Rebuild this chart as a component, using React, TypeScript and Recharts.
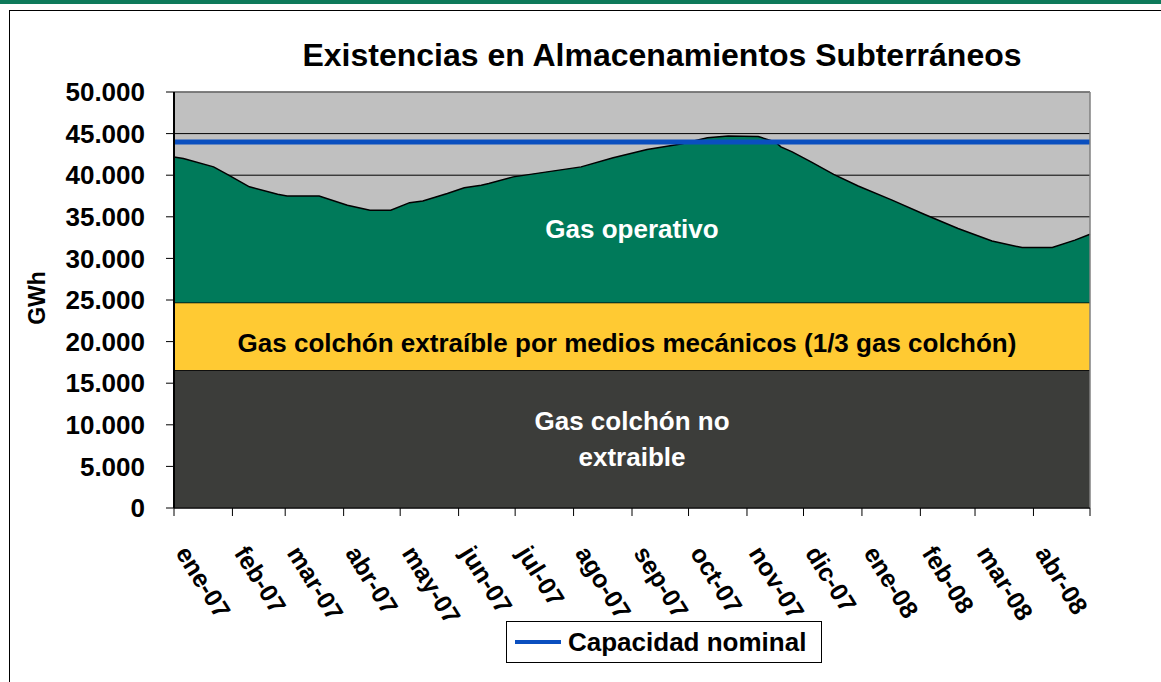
import {
  ComposedChart,
  Area,
  Line,
  XAxis,
  YAxis,
  CartesianGrid,
  ReferenceArea,
  ReferenceLine,
} from 'recharts';

const FONT = '"Liberation Sans", Arial, sans-serif';

// month start (days since 1 Jan 2007) and their labels
const monthStartDays = [0, 31, 59, 90, 120, 151, 181, 212, 243, 273, 304, 334, 365, 396, 425, 456, 486];
const monthLabels = [
  'ene-07', 'feb-07', 'mar-07', 'abr-07', 'may-07', 'jun-07', 'jul-07', 'ago-07',
  'sep-07', 'oct-07', 'nov-07', 'dic-07', 'ene-08', 'feb-08', 'mar-08', 'abr-08', '',
];

// total stock in storage (GWh)
const days = [
  0, 5, 21, 29, 40, 55, 60, 77, 92, 104, 115, 125, 132, 145, 154, 163, 167, 180, 198, 216,
  233, 251, 269, 283, 294, 310, 319, 322, 328, 338, 350, 363, 381, 398, 416, 434, 450, 466, 478, 486,
];
const totalStock = [
  42200, 42000, 41000, 40000, 38600, 37700, 37500, 37500, 36400, 35800, 35800, 36700, 36900, 37800,
  38500, 38800, 39000, 39800, 40400, 41000, 42100, 43100, 43750, 44500, 44700, 44650, 44000, 43400,
  42800, 41600, 40100, 38700, 37000, 35300, 33600, 32100, 31300, 31300, 32200, 32900,
];

const cushionFixed = 16600; // gas colchón no extraible
const cushionExtractable = 8100; // 1/3 gas colchón
const nominalCapacity = 44000;
const yTicks = [0, 5000, 10000, 15000, 20000, 25000, 30000, 35000, 40000, 45000, 50000];

const chartData = days.map((d, i) => ({
  day: d,
  fixed: cushionFixed,
  extractable: cushionExtractable,
  operativo: totalStock[i] - cushionFixed - cushionExtractable,
  capacidad: nominalCapacity,
}));

const fmt = (v: number) => String(v).replace(/\B(?=(\d{3})+(?!\d))/g, '.');

function MonthTick(props: any) {
  const { x, y, payload } = props;
  const idx = monthStartDays.indexOf(payload.value);
  const label = idx >= 0 ? monthLabels[idx] : '';
  const ax = x + 1;
  const ay = y + 35;
  return (
    <text
      x={ax}
      y={ay}
      transform={`rotate(58, ${ax}, ${ay})`}
      textAnchor="start"
      fontFamily={FONT}
      fontWeight="bold"
      fontSize={25}
      fill="#000"
    >
      {label}
    </text>
  );
}

function bandLabel(lines: string[], color: string, offsetY: number, offsetX = 0) {
  return (props: any) => {
    const { x, y, width, height } = props.viewBox;
    const cx = x + width / 2 + offsetX;
    const cy = y + height / 2 + offsetY;
    return (
      <g>
        {lines.map((t, i) => (
          <text
            key={t}
            x={cx}
            y={cy + (i - (lines.length - 1) / 2) * 36 + 9}
            textAnchor="middle"
            fontFamily={FONT}
            fontWeight="bold"
            fontSize={26}
            fill={color}
          >
            {t}
          </text>
        ))}
      </g>
    );
  };
}

export default function App() {
  return (
    <div style={{ position: 'absolute', left: 0, top: 0, width: 1161, height: 682, background: '#fff', overflow: 'hidden' }}>
      <div style={{ position: 'absolute', left: 0, top: 0, width: 1161, height: 4, background: '#0E7A5A' }} />
      <div
        style={{
          position: 'absolute',
          left: 9,
          top: 10,
          width: 1200,
          height: 700,
          border: '1px solid #000',
          boxSizing: 'border-box',
        }}
      />
      <div
        style={{
          position: 'absolute',
          left: 0,
          top: 38,
          width: 1324,
          textAlign: 'center',
          fontFamily: FONT,
          fontWeight: 'bold',
          fontSize: 32,
          lineHeight: '34px',
          color: '#000',
        }}
      >
        Existencias en Almacenamientos Subterráneos
      </div>
      <div style={{ position: 'absolute', left: 0, top: 0 }}>
        <ComposedChart
          width={1161}
          height={682}
          data={chartData}
          margin={{ top: 92, right: 71, bottom: 74, left: 24 }}
        >
          <CartesianGrid vertical={false} stroke="#000" strokeWidth={1} fill="#C0C0C0" fillOpacity={1} />
          <XAxis
            type="number"
            dataKey="day"
            domain={[0, 486]}
            ticks={monthStartDays}
            interval={0}
            tick={<MonthTick />}
            tickSize={8}
            tickLine={{ stroke: '#000' }}
            axisLine={{ stroke: '#000' }}
            height={100}
          />
          <YAxis
            type="number"
            domain={[0, 50000]}
            ticks={yTicks}
            interval={0}
            tickFormatter={fmt}
            width={150}
            tickSize={8}
            tickMargin={21}
            tickLine={{ stroke: '#000' }}
            axisLine={{ stroke: '#000', strokeWidth: 2 }}
            tick={{ fontFamily: FONT, fontWeight: 'bold', fontSize: 26, fill: '#000' }}
          />
          <Area
            type="linear"
            dataKey="fixed"
            stackId="s"
            fill="#3C3D3A"
            fillOpacity={1}
            stroke="#000"
            strokeWidth={1.5}
            isAnimationActive={false}
          />
          <Area
            type="linear"
            dataKey="extractable"
            stackId="s"
            fill="#FFCA33"
            fillOpacity={1}
            stroke="#000"
            strokeWidth={1.5}
            isAnimationActive={false}
          />
          <Area
            type="linear"
            dataKey="operativo"
            stackId="s"
            fill="#007A5A"
            fillOpacity={1}
            stroke="#000"
            strokeWidth={1.5}
            isAnimationActive={false}
          />
          <Line
            type="linear"
            dataKey="capacidad"
            stroke="#0A4FBF"
            strokeWidth={5}
            dot={false}
            isAnimationActive={false}
          />
          <ReferenceLine y={50000} stroke="#808080" strokeWidth={1.5} />
          <ReferenceLine x={486} stroke="#808080" strokeWidth={1.5} />
          <ReferenceArea
            y1={cushionFixed + cushionExtractable}
            y2={nominalCapacity}
            fillOpacity={0}
            strokeOpacity={0}
            label={bandLabel(['Gas operativo'], '#fff', 7)}
          />
          <ReferenceArea
            y1={cushionFixed}
            y2={cushionFixed + cushionExtractable}
            fillOpacity={0}
            strokeOpacity={0}
            label={bandLabel(['Gas colchón extraíble por medios mecánicos (1/3 gas colchón)'], '#000', 7, -5)}
          />
          <ReferenceArea
            y1={0}
            y2={cushionFixed}
            fillOpacity={0}
            strokeOpacity={0}
            label={bandLabel(['Gas colchón no', 'extraible'], '#fff', 0)}
          />
        </ComposedChart>
      </div>
      <div
        style={{
          position: 'absolute',
          left: 24,
          top: 298,
          width: 0,
          height: 0,
        }}
      >
        <div
          style={{
            position: 'absolute',
            left: -40,
            top: -12,
            width: 80,
            height: 24,
            lineHeight: '24px',
            textAlign: 'center',
            transform: 'rotate(-90deg)',
            fontFamily: FONT,
            fontWeight: 'bold',
            fontSize: 23,
            color: '#000',
            marginLeft: 13,
          }}
        >
          GWh
        </div>
      </div>
      <div
        style={{
          position: 'absolute',
          left: 506,
          top: 621,
          width: 316,
          height: 42,
          border: '1px solid #000',
          boxSizing: 'border-box',
          background: '#fff',
          display: 'flex',
          alignItems: 'center',
          fontFamily: FONT,
          fontWeight: 'bold',
          fontSize: 26,
          color: '#000',
        }}
      >
        <div style={{ width: 46, height: 4, background: '#0A4FBF', marginLeft: 8, marginRight: 7 }} />
        <span>Capacidad nominal</span>
      </div>
    </div>
  );
}
